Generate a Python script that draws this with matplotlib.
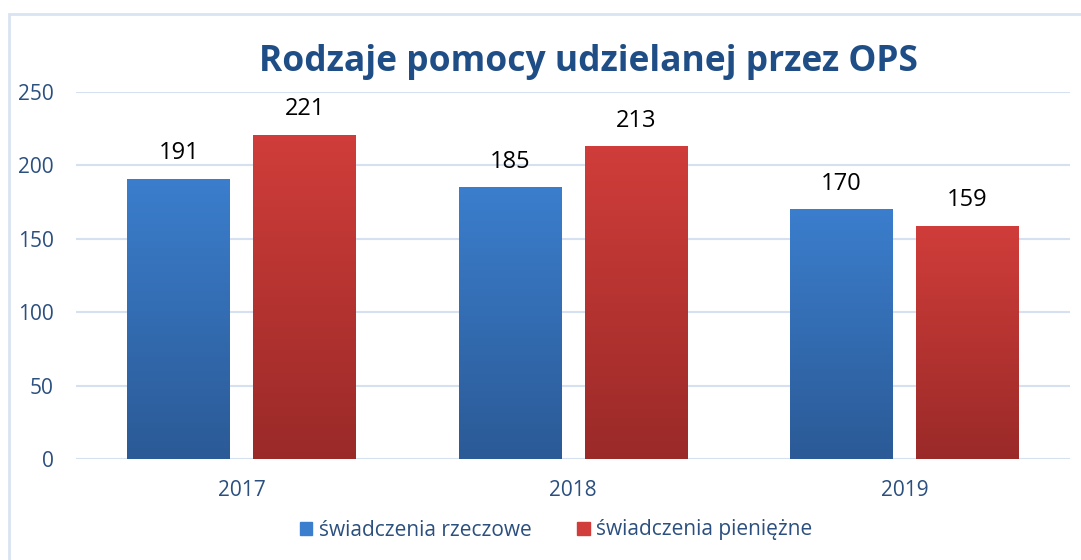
import numpy as np
import matplotlib
matplotlib.use("Agg")
import matplotlib.pyplot as plt
from matplotlib.patches import Rectangle
from matplotlib.colors import LinearSegmentedColormap

years = ["2017", "2018", "2019"]
rzeczowe = [191, 185, 170]
pieniezne = [221, 213, 159]
series_names = ["świadczenia rzeczowe", "świadczenia pieniężne"]
yticks = [0, 50, 100, 150, 200, 250]

plt.rcParams['font.family'] = ['Open Sans', 'DejaVu Sans']

fig = plt.figure(figsize=(10.81, 5.6), dpi=100)
ax = fig.add_axes([76/1081, 1-459/560, (1070-76)/1081, (459-92)/560])

x = np.arange(len(years))
w = 0.31
off = 0.19
blue_top, blue_bot = "#3b7ecd", "#2b5a96"
red_top, red_bot = "#d03d3a", "#9a2a28"

def grad_bars(bars, top, bot):
    cmap = LinearSegmentedColormap.from_list("g", [bot, top])
    grad = np.linspace(0, 1, 256).reshape(-1, 1)
    for b in bars:
        x0, y0 = b.get_x(), b.get_y()
        ww, hh = b.get_width(), b.get_height()
        im = ax.imshow(grad, cmap=cmap, origin="lower", aspect="auto",
                       extent=[x0, x0 + ww, y0, y0 + hh], zorder=3)
        im.set_clip_path(b)

b1 = ax.bar(x - off, rzeczowe, w, color=blue_top, zorder=2, label=series_names[0])
b2 = ax.bar(x + off, pieniezne, w, color=red_top, zorder=2, label=series_names[1])
grad_bars(b1, blue_top, blue_bot)
grad_bars(b2, red_top, red_bot)
ax.set_xlim(-0.5, 2.5)
ax.set_ylim(0, 250)

for bars in (b1, b2):
    for b in bars:
        ax.text(b.get_x() + b.get_width()/2, b.get_height() + 9, f"{int(b.get_height())}",
                ha="center", va="bottom", fontsize=17, color="black", zorder=5)

ax.set_yticks(yticks)
ax.set_xticks(x)
ax.set_xticklabels(years)
ax.yaxis.grid(True, color="#d5e1f0", lw=1.5, zorder=0)
ax.set_axisbelow(True)
for s in ax.spines.values():
    s.set_visible(False)
ax.tick_params(axis="both", length=0, labelsize=15, colors="#2b4f7e")
ax.tick_params(axis="y", pad=16)
ax.tick_params(axis="x", pad=15)

fig.text(588/1081, 1-62/560, "Rodzaje pomocy udzielanej przez OPS", ha="center", va="center",
         fontsize=25.5, fontweight="bold", color="#1f4e86")

handles = [Rectangle((0, 0), 1, 1, color=blue_top), Rectangle((0, 0), 1, 1, color=red_top)]
fig.legend(handles, series_names, loc="center", bbox_to_anchor=(556/1081, 1-530/560), ncol=2,
           frameon=False, fontsize=15, labelcolor="#2b4f7e", handlelength=0.6, handleheight=0.6,
           handletextpad=0.3, columnspacing=2.2)

border = Rectangle((9/1081, -0.1), 1.2, 1 - 14/560 + 0.1, transform=fig.transFigure,
                   fill=False, edgecolor="#d9e4f2", lw=2, clip_on=False)
fig.add_artist(border)

fig.savefig("out.png", dpi=100)
